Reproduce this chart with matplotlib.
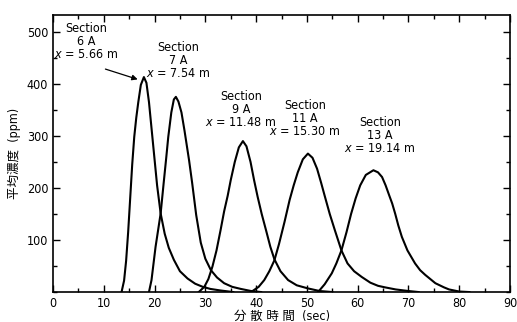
import matplotlib.pyplot as plt
from matplotlib.ticker import MultipleLocator

plt.rcParams['font.family'] = ['DejaVu Sans', 'Noto Sans CJK JP']
plt.rcParams['font.stretch'] = 'condensed'

# Concentration curves: time (sec), mean concentration (ppm)
t6 = [13.5, 14.0, 14.4, 14.8, 15.2, 15.6, 16.0, 16.4, 16.8, 17.3, 17.9, 18.4, 18.9, 19.2,
      19.7, 20.1, 20.5, 21.2, 22.0, 22.8, 23.8, 25.0, 26.5, 28.0, 29.5, 31.0, 33.0, 35.5]
c6 = [0, 22, 60, 115, 180, 245, 298, 335, 365, 398, 413, 402, 365, 335,
      285, 245, 205, 151, 112, 85, 62, 40, 26, 16, 10, 6, 3, 0]

t7 = [18.9, 19.4, 20.2, 21.2, 21.8, 22.3, 22.7, 23.3, 23.8, 24.2, 24.7, 25.3, 25.9, 26.8,
      27.4, 28.2, 29.1, 30.0, 31.1, 32.3, 33.7, 35.3, 37.0, 39.0, 41.0]
c7 = [0, 23, 87, 151, 210, 258, 298, 345, 370, 375, 366, 345, 310, 253,
      210, 148, 95, 64, 42, 28, 17, 10, 6, 2, 0]

t9 = [28.7, 29.8, 30.6, 31.4, 32.2, 33.0, 33.7, 34.4, 35.0, 35.8, 36.6, 37.4, 38.1, 38.9,
      39.6, 40.3, 41.1, 42.0, 42.8, 43.6, 44.8, 46.3, 48.0, 50.2, 52.5, 55.0]
c9 = [0, 10, 25, 49, 80, 119, 155, 185, 215, 250, 278, 290, 280, 250,
      215, 183, 150, 117, 87, 63, 40, 23, 13, 7, 2, 0]

t11 = [39.0, 40.5, 41.6, 42.6, 43.6, 44.5, 45.6, 46.6, 47.4, 48.2, 49.2, 50.2, 51.1, 52.0,
       52.8, 53.5, 54.5, 55.5, 56.8, 58.0, 59.3, 60.8, 62.5, 64.0, 65.4, 67.5, 70.0, 72.0]
c11 = [0, 10, 23, 40, 61, 92, 135, 177, 205, 230, 255, 266, 258, 237,
       210, 185, 150, 119, 80, 55, 40, 29, 18, 12, 9, 5, 2, 0]

t13 = [52.2, 53.5, 54.9, 55.8, 56.8, 57.8, 58.7, 59.6, 60.5, 61.6, 63.1, 64.0, 64.8, 65.5,
       66.2, 66.8, 67.4, 68.0, 68.7, 69.8, 71.3, 72.3, 73.3, 75.3, 77.0, 78.0, 80.0, 82.0]
c13 = [0, 15, 36, 55, 80, 115, 150, 180, 205, 225, 234, 230, 221, 205,
       186, 170, 150, 128, 106, 80, 55, 42, 33, 17, 9, 5, 1, 0]

curves = [(t6, c6), (t7, c7), (t9, c9), (t11, c11), (t13, c13)]

labels = ['Section\n6 A\n$x$ = 5.66 m', 'Section\n7 A\n$x$ = 7.54 m', 'Section\n9 A\n$x$ = 11.48 m',
          'Section\n11 A\n$x$ = 15.30 m', 'Section\n13 A\n$x$ = 19.14 m']
label_x = [6.5, 24.6, 37.0, 49.6, 64.4]
label_y = [518, 482, 388, 370, 338]

fig = plt.figure(figsize=(5.17, 3.22), dpi=100)
ax = fig.add_axes([0.1025, 0.093, 0.884, 0.860])

for t, c in curves:
    ax.plot(t, c, color='black', lw=1.5, solid_joinstyle='round')

for txt, lx, ly in zip(labels, label_x, label_y):
    ax.text(lx, ly, txt, ha='center', va='top', fontsize=9, linespacing=1.0)

# arrow from the 6A label to its peak
ax.annotate('', xy=(17.2, 407), xytext=(9.8, 430),
            arrowprops=dict(arrowstyle='-|>', color='black', lw=0.9, mutation_scale=8))

ax.set_xlim(0, 90)
ax.set_ylim(0, 532)
ax.xaxis.set_major_locator(MultipleLocator(10))
ax.xaxis.set_minor_locator(MultipleLocator(5))
ax.set_yticks([100, 200, 300, 400, 500])
ax.yaxis.set_minor_locator(MultipleLocator(50))
ax.tick_params(which='both', direction='in', top=True, right=True, labelsize=9, width=1)
ax.tick_params(which='major', length=5)
ax.tick_params(which='minor', length=3)
for s in ax.spines.values():
    s.set_linewidth(1.2)

ax.set_xlabel('分 散 時 間  (sec)', fontsize=9, labelpad=0)
ax.set_ylabel('平均濃度  (ppm)', fontsize=9, labelpad=4)

fig.savefig('out.png', dpi=100)
